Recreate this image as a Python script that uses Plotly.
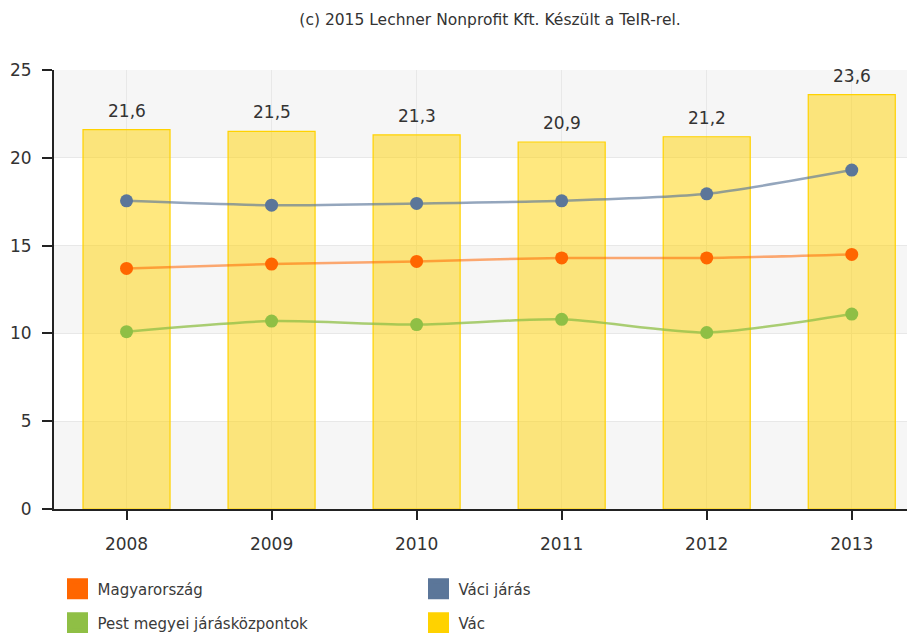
import plotly.graph_objects as go

years = ["2008", "2009", "2010", "2011", "2012", "2013"]
vac = [21.6, 21.5, 21.3, 20.9, 21.2, 23.6]
magyarorszag = [13.7, 13.95, 14.1, 14.3, 14.3, 14.5]
vaci_jaras = [17.55, 17.3, 17.4, 17.55, 17.95, 19.3]
pest = [10.1, 10.7, 10.5, 10.8, 10.05, 11.1]

FONT = "DejaVu Sans"
TXT = "#333333"

fig = go.Figure()

fig.add_trace(go.Bar(
    x=years, y=vac, width=0.6, name="Vác", showlegend=False,
    marker=dict(color="rgba(255,210,0,0.5)", line=dict(color="#ffd200", width=1.2)),
    hoverinfo="y",
))

# bar value labels (category index positions)
for i, v in enumerate(vac):
    fig.add_annotation(x=i, y=v, xref="x", yref="y", text=f"{v:.1f}".replace(".", ","),
                       showarrow=False, yanchor="bottom", yshift=7,
                       font=dict(family=FONT, size=17, color=TXT))

series = [
    ("Magyarország", magyarorszag, "#ff6600", "rgba(255,102,0,0.55)"),
    ("Váci járás", vaci_jaras, "#5b7699", "rgba(91,118,153,0.65)"),
    ("Pest megyei járásközpontok", pest, "#8fbf45", "rgba(143,191,69,0.75)"),
]
for name, vals, col, lcol in series:
    fig.add_trace(go.Scatter(
        x=years, y=vals, name=name, mode="lines+markers", showlegend=False,
        line=dict(color=lcol, width=2.5, shape="spline", smoothing=0.7),
        marker=dict(color=col, size=13),
    ))

# legend-only swatches
legend_items = [
    ("Magyarország", "#ff6600", "legend"),
    ("Váci járás", "#5b7699", "legend"),
    ("Pest megyei járásközpontok", "#8fbf45", "legend2"),
    ("Vác", "#ffd200", "legend2"),
]
for name, col, lg in legend_items:
    fig.add_trace(go.Scatter(
        x=[None], y=[None], mode="markers", name=name, legend=lg,
        marker=dict(symbol="square", size=16, color=col, line=dict(color=col, width=5)),
    ))

# alternating background bands
for y0 in [0, 10, 20]:
    fig.add_shape(type="rect", xref="paper", yref="y", x0=0, x1=1, y0=y0, y1=y0 + 5,
                  fillcolor="#f6f6f6", line=dict(width=0), layer="below")

W, H = 907, 625

legend_common = dict(
    orientation="h", xref="container", yref="container", xanchor="left", yanchor="middle",
    entrywidth=316, entrywidthmode="pixels", font=dict(family=FONT, size=15, color="#3a3a3a"),
    bgcolor="rgba(0,0,0,0)", itemclick=False, itemdoubleclick=False,
)

fig.update_layout(
    width=W, height=H,
    margin=dict(l=46, r=0, t=62, b=124),
    plot_bgcolor="white", paper_bgcolor="white",
    title=dict(text="(c) 2015 Lechner Nonprofit Kft. Készült a TeIR-rel.", x=482 / W, xanchor="center",
               y=1 - 12 / H, yanchor="middle", yref="container",
               font=dict(family=FONT, size=15.5, color=TXT)),
    xaxis=dict(type="category", range=[-0.5, 5.436], showgrid=True, gridcolor="#e8e8e8",
               showline=True, linecolor="#222222", linewidth=2, ticks="outside", ticklen=9,
               tickcolor="#222222", tickwidth=2, tickfont=dict(family=FONT, size=17, color=TXT),
               ticklabelstandoff=10, fixedrange=True),
    yaxis=dict(range=[0, 25], dtick=5, showgrid=True, gridcolor="#e8e8e8", zeroline=False,
               showline=True, linecolor="#222222", linewidth=2, ticks="outside", ticklen=10,
               tickcolor="#222222", tickwidth=2, tickfont=dict(family=FONT, size=17, color=TXT),
               ticklabelstandoff=7, fixedrange=True),
    legend=dict(x=49.5 / W, y=1 - 581 / H, **legend_common),
    legend2=dict(x=49.5 / W, y=1 - 615 / H, **legend_common),
    showlegend=True,
)

fig.write_html("out.html")
